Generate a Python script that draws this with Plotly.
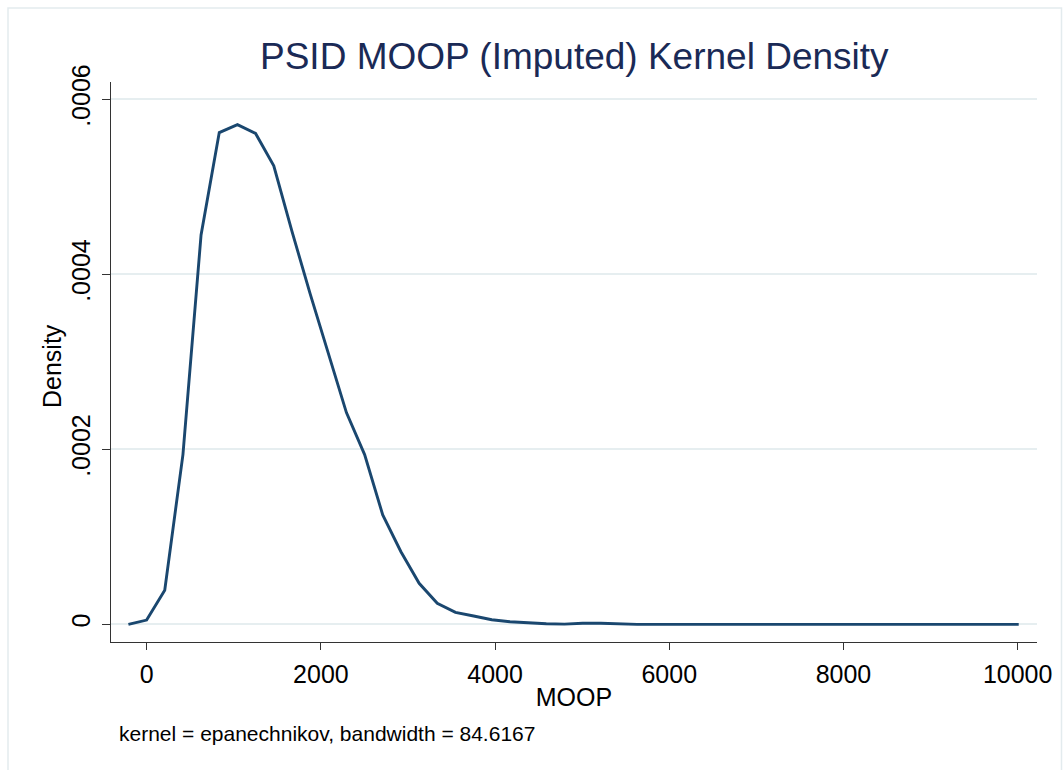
import plotly.graph_objects as go

# Kernel density estimate of imputed MOOP (50 evaluation points)
moop = [-210, -1, 207, 416, 624, 833, 1042, 1250, 1459, 1668,
        1876, 2085, 2293, 2502, 2710, 2919, 3128, 3336, 3545, 3754,
        3962, 4171, 4379, 4588, 4797, 5005, 5214, 5422, 5631, 5840,
        6048, 6257, 6465, 6674, 6883, 7091, 7300, 7508, 7717, 7926,
        8134, 8343, 8551, 8760, 8969, 9177, 9386, 9594, 9803, 10012]
density = [0.0, 0.0000049, 0.0000389, 0.000194, 0.000445, 0.000562, 0.000571, 0.000561, 0.000524, 0.000449,
           0.000378, 0.000310, 0.000242, 0.000194, 0.000125, 0.000083, 0.0000469, 0.0000240, 0.0000137, 0.0000095,
           0.0000052, 0.0000030, 0.0000014, 0.0000006, 0.0000002, 0.0000013, 0.0000012, 0.0000003, 0.0, 0.0,
           0.0, 0.0, 0.0, 0.0, 0.0, 0.0, 0.0, 0.0, 0.0, 0.0,
           0.0, 0.0, 0.0, 0.0, 0.0, 0.0, 0.0, 0.0, 0.0, 0.0]

x_ticks = [0, 2000, 4000, 6000, 8000, 10000]
x_tick_text = ["0", "2000", "4000", "6000", "8000", "10000"]
y_ticks = [0, 0.0002, 0.0004, 0.0006]
y_tick_text = ["0", ".0002", ".0004", ".0006"]

title_text = "PSID MOOP (Imputed) Kernel Density"
note_text = "kernel = epanechnikov, bandwidth = 84.6167"

FONT = "Arial, 'Liberation Sans', sans-serif"
LINE_COLOR = "#1a476f"
GRID_COLOR = "#e6eef0"
AXIS_COLOR = "#333333"

# plot area in pixels: x 111..1037, y 82..642
PW, PH = 926, 560

fig = go.Figure()
fig.add_trace(go.Scatter(
    x=moop, y=density, mode="lines",
    line=dict(color=LINE_COLOR, width=2.9),
    hoverinfo="x+y", showlegend=False,
))

fig.update_layout(
    width=1063, height=770,
    margin=dict(l=111, r=26, t=82, b=128),
    paper_bgcolor="white", plot_bgcolor="white",
    font=dict(family=FONT, color="black", size=25),
    showlegend=False,
    xaxis=dict(
        range=[-410, 10222],
        tickmode="array", tickvals=x_ticks, ticktext=x_tick_text,
        ticks="outside", ticklen=7, tickwidth=1.3, tickcolor=AXIS_COLOR,
        showline=True, linecolor=AXIS_COLOR, linewidth=1.3,
        showgrid=False, zeroline=False,
        tickfont=dict(size=25, color="black"),
        ticklabelstandoff=3,
        title=dict(text="MOOP", font=dict(size=25, color="black"), standoff=1),
    ),
    yaxis=dict(
        range=[-0.0000202, 0.0006198],
        tickmode="array", tickvals=y_ticks, ticktext=y_tick_text,
        ticks="outside", ticklen=8, tickwidth=1.3, tickcolor=AXIS_COLOR,
        tickangle=-90,
        showline=True, linecolor=AXIS_COLOR, linewidth=1.3,
        showgrid=True, gridcolor=GRID_COLOR, gridwidth=2,
        zeroline=False,
        tickfont=dict(size=25, color="black"),
        ticklabelstandoff=2,
    ),
    annotations=[
        dict(text=title_text, xref="paper", yref="paper",
             x=0.5, y=1.0 + (82 - 57) / PH, xanchor="center", yanchor="middle",
             showarrow=False, font=dict(size=37, color="#1a2a56", family=FONT)),
        dict(text="Density", xref="paper", yref="paper", textangle=-90,
             x=(52 - 111) / PW, y=(642 - 366) / PH, xanchor="center", yanchor="middle",
             showarrow=False, font=dict(size=25, color="black", family=FONT)),
        dict(text=note_text, xref="paper", yref="paper",
             x=(117 - 111) / PW, y=-(733 - 642) / PH, xanchor="left", yanchor="middle",
             showarrow=False, font=dict(size=21, color="black", family=FONT)),
    ],
    shapes=[
        dict(type="rect", xref="paper", yref="paper",
             x0=(8 - 111) / PW, x1=(1061.5 - 111) / PW,
             y0=-(790 - 642) / PH, y1=1.0 + (82 - 8) / PH,
             line=dict(color="#e3ebee", width=1.5), fillcolor="rgba(0,0,0,0)",
             layer="below"),
    ],
)

fig.write_html("out.html")
